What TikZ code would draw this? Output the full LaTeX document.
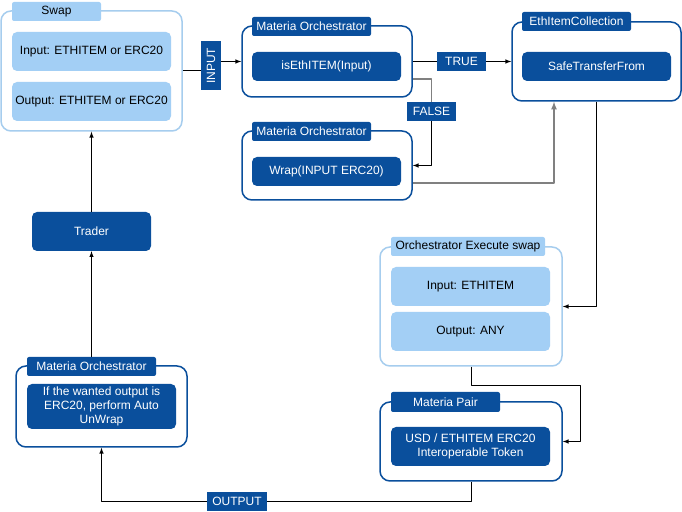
\documentclass[tikz,border=0pt]{standalone}
\usepackage{fontspec}
\setmainfont{Liberation Sans}
\definecolor{darkblue}{RGB}{10,79,156}
\definecolor{lightblue}{RGB}{163,207,245}
\definecolor{lightline}{RGB}{166,205,238}
\begin{document}
\begin{tikzpicture}[>=latex,line join=bevel,
  font=\fontsize{12bp}{14bp}\selectfont,
  darkframe/.style={draw=darkblue,line width=1.5bp,fill=white,rounded corners=10bp,inner sep=0pt},
  lightframe/.style={draw=lightline,line width=1.5bp,fill=white,rounded corners=10bp,inner sep=0pt},
  darktab/.style={fill=darkblue,text=white,rounded corners=2bp,inner sep=0pt,minimum height=19bp},
  lighttab/.style={fill=lightblue,text=black,rounded corners=2bp,inner sep=0pt,minimum height=19bp},
  darkbox/.style={fill=darkblue,text=white,rounded corners=5bp,inner sep=0pt,align=center},
  lightbox/.style={fill=lightblue,text=black,rounded corners=5bp,inner sep=0pt,align=center},
  flag/.style={fill=darkblue,text=white,inner sep=0pt,minimum height=19bp},
  link/.style={line width=1bp},
  greylink/.style={line width=1.6bp,draw=gray},
]
\useasboundingbox (0bp,0bp) rectangle (682bp,512bp);
%%
% swap
  \node (swap) at (91.5bp,441bp) [lightframe,minimum width=181bp,minimum height=120bp] {};
  \node (swaptab) at (56.5bp,500.5bp) [lighttab,minimum width=89bp] {Swap};
  \node (swapin) at (91.5bp,460.5bp) [lightbox,minimum width=159bp,minimum height=39bp] {Input: ETHITEM or ERC20};
  \node (swapout) at (91.5bp,410.5bp) [lightbox,minimum width=159bp,minimum height=39bp] {Output: ETHITEM or ERC20};
% orchestrator, check
  \node (mo1) at (327bp,450.5bp) [darkframe,minimum width=170bp,minimum height=71bp] {};
  \node (mo1tab) at (311.5bp,485.5bp) [darktab,minimum width=119bp] {Materia Orchestrator};
  \node (mo1in) at (326.5bp,445.5bp) [darkbox,minimum width=149bp,minimum height=29bp] {isEthITEM(Input)};
% orchestrator, wrap
  \node (mo2) at (327bp,346.5bp) [darkframe,minimum width=170bp,minimum height=69bp] {};
  \node (mo2tab) at (311.5bp,380.5bp) [darktab,minimum width=119bp] {Materia Orchestrator};
  \node (mo2in) at (326.5bp,340.5bp) [darkbox,minimum width=149bp,minimum height=29bp] {Wrap(INPUT ERC20)};
% collection
  \node (eic) at (596.5bp,450.5bp) [darkframe,minimum width=169bp,minimum height=79bp] {};
  \node (eictab) at (576.5bp,490.5bp) [darktab,minimum width=109bp] {EthItemCollection};
  \node (eicin) at (596.5bp,445.5bp) [darkbox,minimum width=149bp,minimum height=29bp] {SafeTransferFrom};
% execute swap
  \node (oes) at (471bp,205.5bp) [lightframe,minimum width=182bp,minimum height=119bp] {};
  \node (oestab) at (468bp,265.5bp) [lighttab,minimum width=154bp] {Orchestrator Execute swap};
  \node (oesin) at (470.5bp,225.5bp) [lightbox,minimum width=159bp,minimum height=39bp] {Input: ETHITEM};
  \node (oesout) at (470.5bp,180.5bp) [lightbox,minimum width=159bp,minimum height=39bp] {Output: ANY};
% pair
  \node (mp) at (471bp,70.5bp) [darkframe,minimum width=182bp,minimum height=79bp] {};
  \node (mptab) at (445.5bp,110bp) [darktab,minimum width=109bp,minimum height=20bp] {Materia Pair};
  \node (mpin) at (470.5bp,65.5bp) [darkbox,minimum width=159bp,minimum height=39bp] {USD / ETHITEM ERC20\\Interoperable Token};
% orchestrator, unwrap
  \node (mo3) at (101.5bp,105.5bp) [darkframe,minimum width=171bp,minimum height=81bp] {};
  \node (mo3tab) at (91.5bp,145.5bp) [darktab,minimum width=129bp] {Materia Orchestrator};
  \node (mo3in) at (101.5bp,105.5bp) [darkbox,minimum width=149bp,minimum height=45bp] {If the wanted output is\\ERC20, perform Auto\\UnWrap};
% trader
  \node (trader) at (91.5bp,280.5bp) [darkbox,minimum width=119bp,minimum height=39bp] {Trader};
%%
  \coordinate (inbend) at (211bp,446bp);
  \coordinate (fbend) at (431.5bp,433bp);
  \coordinate (wrapout) at (554bp,329bp);
  \coordinate (pairbend) at (580bp,126bp);
  \coordinate (outbend) at (237bp,10.5bp);
  \draw [->,link] (swap.east) -| (inbend) |- (mo1.west);
  \draw [->,link] (mo1.east) -- (eic.west);
  \draw [greylink] (mo1.east |- fbend) -| (431.5bp,400.5bp);
  \draw [->,link] (431.5bp,400.5bp) |- (mo2.east);
  \draw [->,greylink] (mo2.east |- wrapout) -| (wrapout |- eic.south);
  \draw [->,link] (eic.south) |- (oes.east);
  \draw [->,link] (oes.south) |- (pairbend) |- (mp.east);
  \draw [->,link] (mp.south) |- (outbend) -| (mo3.south);
  \draw [->,link] (mo3tab.north) -- (trader.south);
  \draw [->,link] (trader.north) -- (swap.south);
  \node (input) at (inbend) [flag,rotate=90,minimum width=49bp,minimum height=20bp] {INPUT};
  \node (true) at (461.5bp,450.5bp) [flag,minimum width=49bp] {TRUE};
  \node (false) at (431.5bp,400.5bp) [flag,minimum width=49bp] {FALSE};
  \node (output) at (outbend) [flag,minimum width=60bp] {OUTPUT};
%
\end{tikzpicture}
\end{document}
